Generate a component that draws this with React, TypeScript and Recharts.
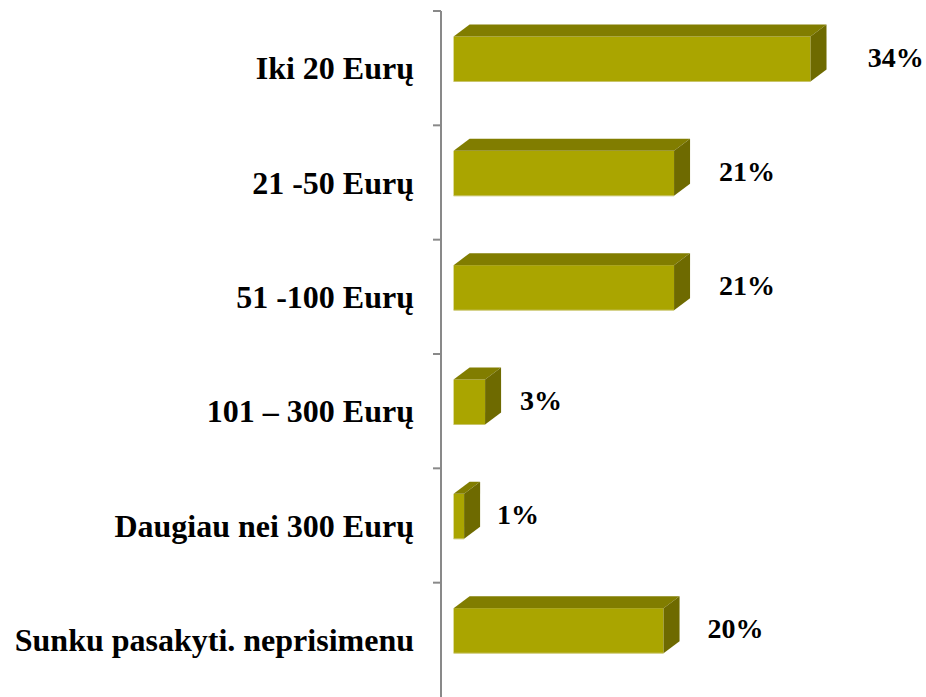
import React from "react";
import { BarChart, Bar, XAxis, YAxis, LabelList } from "recharts";

const categories = [
  "Iki 20 Eurų",
  "21 -50 Eurų",
  "51 -100 Eurų",
  "101 – 300 Eurų",
  "Daugiau nei 300 Eurų",
  "Sunku pasakyti. neprisimenu",
];
const shares = [34, 21, 21, 3, 1, 20];

const data = categories.map((name, i) => ({ name, value: shares[i] }));

const W = 926;
const H = 697;
const TOP = 11;
const AXIS_W = 441;
const BAND = (H - TOP) / categories.length;
const FONT = "'Liberation Serif', 'Times New Roman', serif";

// 3d look, Excel style
const DEPTH_X = 16;
const DEPTH_Y = 12;
const LIFT = 9.5;

const Box = (props: any) => {
  const { x, y, width, height } = props;
  if (width <= 0) return null;
  const y0 = y - LIFT;
  const r = x + width;
  return (
    <g>
      <rect x={x} y={y0} width={width} height={height} fill="#aaa500" />
      <polygon
        points={`${x},${y0} ${x + DEPTH_X},${y0 - DEPTH_Y} ${r + DEPTH_X},${y0 - DEPTH_Y} ${r},${y0}`}
        fill="#817d00"
      />
      <polygon
        points={`${r},${y0} ${r + DEPTH_X},${y0 - DEPTH_Y} ${r + DEPTH_X},${y0 + height - DEPTH_Y} ${r},${y0 + height}`}
        fill="#6e6a00"
      />
      <line x1={x} y1={y0 + height} x2={r} y2={y0 + height} stroke="#c8c46a" strokeWidth={1} />
    </g>
  );
};

const ValueLabel = (props: any) => {
  const { x, y, width, height, value } = props;
  const cx = x + width + 53 + width * 0.09;
  return (
    <text
      x={cx}
      y={y - LIFT + height / 2 - 2}
      dy="0.35em"
      textAnchor="middle"
      fontFamily={FONT}
      fontWeight="bold"
      fontSize={28}
      fill="#000"
    >
      {value}%
    </text>
  );
};

const CatTick = (props: any) => {
  const { y, payload } = props;
  const ax = AXIS_W;
  return (
    <g>
      <line x1={ax - 8} y1={y - BAND / 2} x2={ax} y2={y - BAND / 2} stroke="#898989" strokeWidth={2} />
      <text
        x={ax - 27}
        y={y}
        dy="0.35em"
        textAnchor="end"
        fontFamily={FONT}
        fontWeight="bold"
        fontSize={32}
        fill="#000"
      >
        {payload.value}
      </text>
    </g>
  );
};

export default function App() {
  return (
    <div style={{ position: "absolute", left: 0, top: 0, width: W, height: H, background: "#fff" }}>
      <BarChart
        width={W}
        height={H}
        data={data}
        layout="vertical"
        margin={{ top: TOP, right: 0, bottom: 0, left: 0 }}
      >
        <XAxis type="number" hide domain={[-1.2, 45]} allowDataOverflow />
        <YAxis
          type="category"
          dataKey="name"
          width={AXIS_W}
          axisLine={{ stroke: "#898989", strokeWidth: 2 }}
          tickLine={false}
          tick={<CatTick />}
          interval={0}
        />
        <Bar dataKey="value" barSize={45} shape={<Box />} isAnimationActive={false}>
          <LabelList dataKey="value" content={<ValueLabel />} />
        </Bar>
      </BarChart>
    </div>
  );
}
